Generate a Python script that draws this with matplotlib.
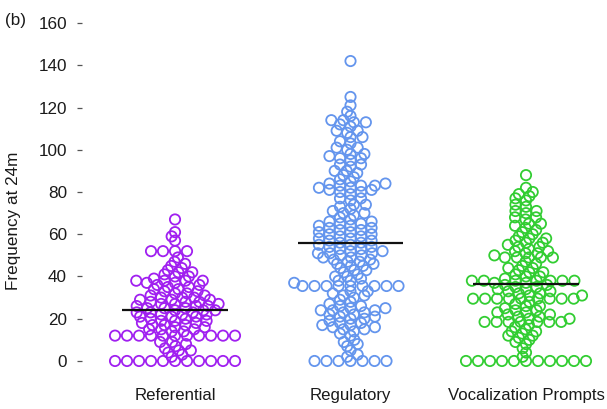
import numpy as np
import matplotlib
matplotlib.use('Agg')
import matplotlib.pyplot as plt

plt.rcParams['font.family'] = ['Liberation Sans', 'DejaVu Sans']

# ---------------- data ----------------
categories = ['Referential', 'Regulatory', 'Vocalization Prompts']
colors = ['#A020F0', '#6495ED', '#32CD32']
y_ticks = [0, 20, 40, 60, 80, 100, 120, 140, 160]
panel_label = '(b)'
y_label = 'Frequency at 24m'

referential = ([0] * 11 + [2, 3, 4, 5, 5, 6, 7, 8, 9, 9] + [12] * 11 +
               [14, 14, 15, 15, 15, 16, 16, 17, 17, 17, 18, 18, 19, 19, 19, 20, 20] +
               [21, 22, 23, 24, 25, 26, 27, 28, 29, 30] * 3 +
               [31, 31, 32, 32, 33, 33, 34, 34, 35, 35, 36, 36, 37, 37, 38, 38, 38, 38] +
               [39, 40, 40, 41, 42, 42, 43, 44, 45] + [46, 47, 49] + [52] * 4 +
               [57, 59, 61, 67])

regulatory = ([0] * 7 + [2, 3, 5, 7] + [8, 9, 10, 12, 13] +
              [14, 15, 15, 16, 16, 17, 17, 18, 18, 19, 20, 20] +
              [21, 21, 22, 22, 23, 23, 24, 24, 24, 25, 25, 26, 26] +
              [27, 28, 29, 30, 31, 31, 32, 33, 33] + [35.5] * 9 +
              [37, 38, 38, 39, 40, 40, 41] +
              [42, 43, 43, 44, 45, 45, 46, 46, 47, 47, 48, 48] +
              [49, 49, 50, 50, 51, 51, 51, 52, 52, 53, 53, 54, 54] +
              [55, 56, 57, 58, 59, 60, 61, 62, 63, 64, 65, 66] * 2 +
              [67, 68, 69, 70, 70, 71, 72] +
              [73, 74, 74, 76, 77, 77, 79, 80, 80] +
              [81, 81, 82, 82, 83, 83, 83, 84, 84, 85, 86, 87, 88] +
              [89, 90, 90, 92, 93, 93, 95, 96, 96] +
              [97, 98, 98, 100, 101, 101, 103, 104, 106, 106] +
              [108, 109, 109, 111, 112, 113, 113] +
              [114, 114, 116, 118, 121, 125] + [142])

vocalization = ([0] * 11 + [2, 4, 6] +
                [8, 9, 10, 11, 12, 12, 13, 14, 14, 15, 16, 17] + [18.5] * 7 +
                [20, 20, 21, 21, 22, 22, 23, 23, 24, 24, 25, 26, 26, 27, 28] +
                [29.5] * 9 +
                [31, 31, 32, 32, 33, 33, 34, 34, 35, 35, 36, 36, 37, 37] +
                [38] * 7 +
                [39, 40, 40, 41, 42, 42, 43, 44, 44, 45, 46, 47] + [49] * 5 +
                [50, 51, 51, 52, 52, 53, 54, 54, 55, 56, 56, 57, 58, 58, 59, 60, 61, 62, 63] +
                [64, 65, 65, 67, 68, 68, 70, 71, 71, 73, 74, 76] +
                [77, 78, 79, 80, 82] + [88])

groups = [referential, regulatory, vocalization]

# ---------------- figure ----------------
W, H = 607, 409
fig = plt.figure(figsize=(W / 100, H / 100), dpi=100)
ax = fig.add_axes([82 / W, 34.5 / H, 525 / W, 365 / H])
ax.set_xlim(0.47, 3.4615)
ax.set_ylim(-6.4, 166.4)


def swarm(xc, vals, w=12.0, h=4.4):
    vals = np.asarray(vals, dtype=float)
    pts = ax.transData.transform(np.column_stack([np.full(len(vals), xc), vals]))
    ys = pts[:, 1]
    order = np.argsort(vals, kind='stable')
    px_list, py_list = [], []
    offs = np.zeros(len(vals))
    for i in order:
        y = ys[i]
        near = [(px, py) for px, py in zip(px_list, py_list) if abs(py - y) < h]
        cands = [0.0]
        for px, py in near:
            d = w * np.sqrt(max(0.0, 1 - ((py - y) / h) ** 2))
            cands += [px + d, px - d]
        cands.sort(key=lambda c: (abs(c), c))
        chosen = cands[-1]
        for c in cands:
            if all(((c - px) / w) ** 2 + ((py - y) / h) ** 2 >= 1 - 1e-6 for px, py in near):
                chosen = c
                break
        offs[i] = chosen
        px_list.append(chosen)
        py_list.append(y)
    unit = ax.transData.transform((1, 0))[0] - ax.transData.transform((0, 0))[0]
    return xc + offs / unit, vals


for k, (vals, col) in enumerate(zip(groups, colors)):
    xs, ys = swarm(k + 1, vals)
    ax.scatter(xs, ys, s=7.4 ** 2, facecolors='none', edgecolors=col,
               linewidths=1.3, zorder=2)
    m = float(np.mean(vals))
    ax.plot([k + 1 - 0.3, k + 1 + 0.3], [m, m], color='#111111', lw=1.6,
            solid_capstyle='butt', zorder=3)

for s in ax.spines.values():
    s.set_visible(False)

ax.set_yticks(y_ticks)
ax.set_yticklabels([str(t) for t in y_ticks])
ax.tick_params(axis='y', length=3.6, width=0.9, color='#555555', pad=7.2,
               labelsize=12.3, labelcolor='#1a1a1a')
ax.set_xticks([1, 2, 3])
ax.set_xticklabels(categories)
ax.tick_params(axis='x', length=0, pad=9.5, labelsize=12.1, labelcolor='#1a1a1a')

fig.text(14 / W, 1 - 221 / H, y_label, rotation=90, ha='center', va='center',
         fontsize=12.3, color='#1a1a1a')
fig.text(5 / W, 1 - 20 / H, panel_label, ha='left', va='center',
         fontsize=12.3, color='#1a1a1a')

fig.savefig('out.png', dpi=100)
